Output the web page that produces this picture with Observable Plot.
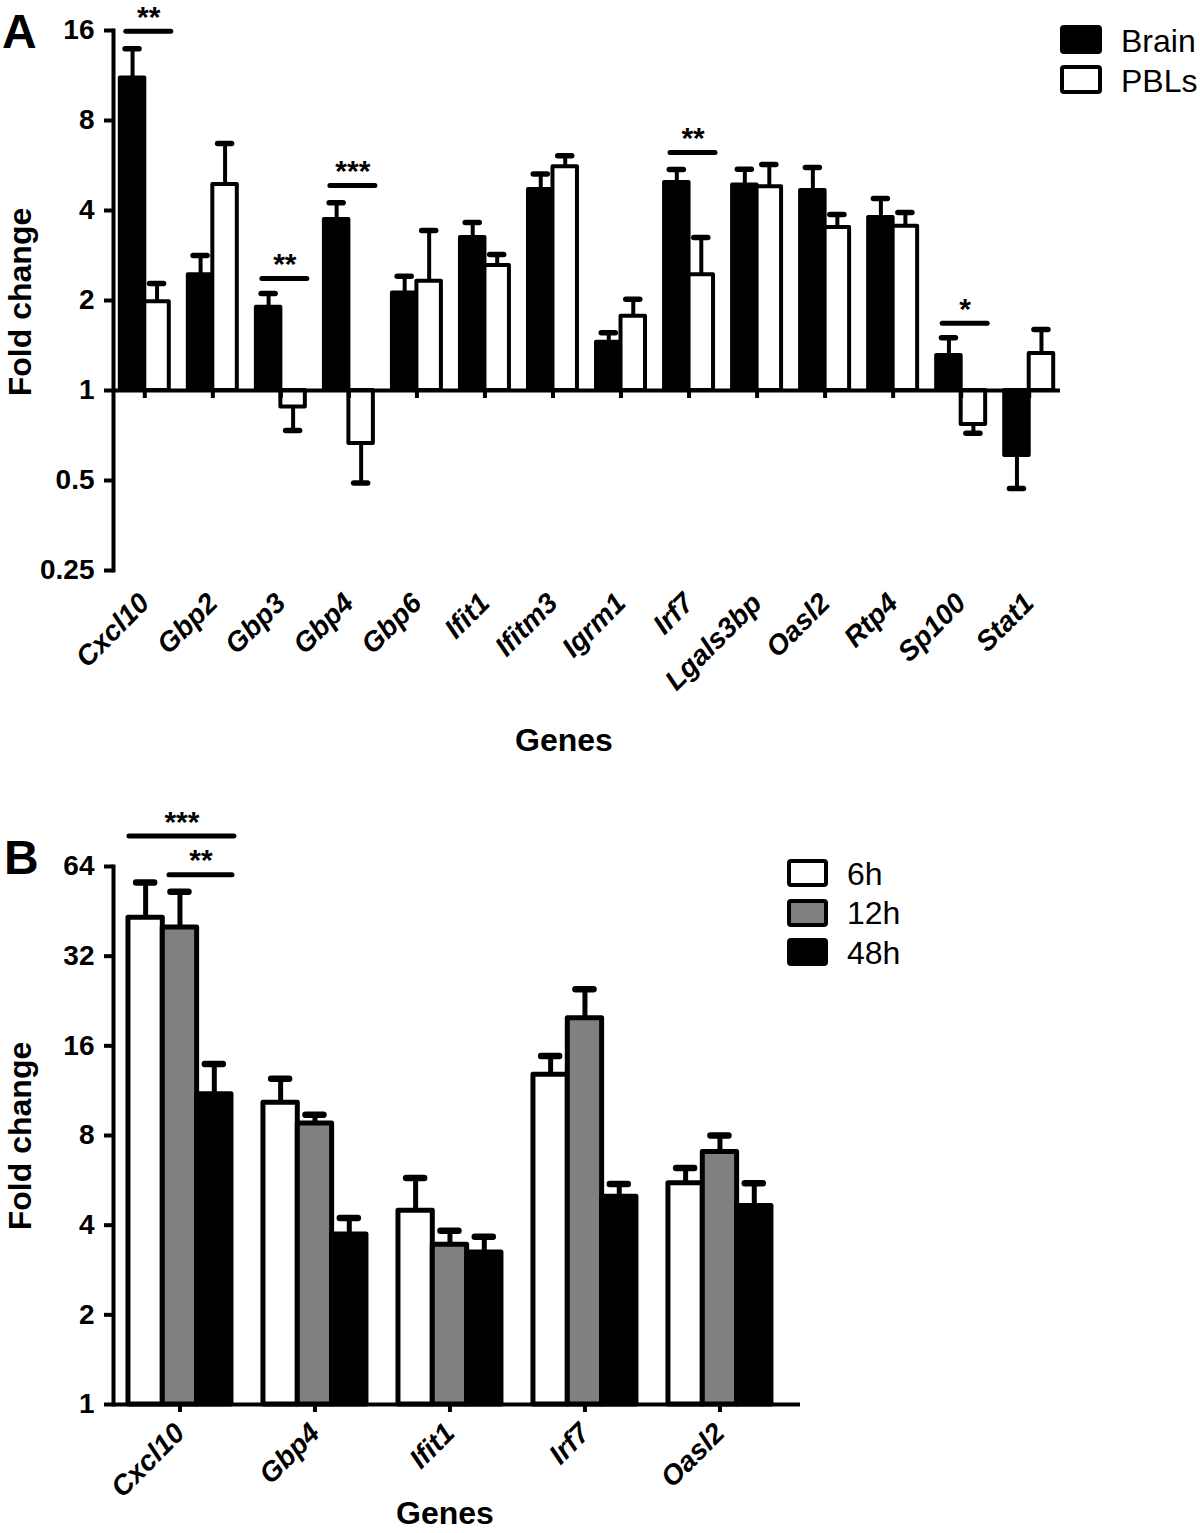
<!DOCTYPE html>
<html><head><meta charset="utf-8">
<script src="https://cdn.jsdelivr.net/npm/d3@7"></script>
<script src="https://cdn.jsdelivr.net/npm/@observablehq/plot@0.6"></script>
<style>
body{margin:0;background:#fff;}
#root{position:relative;width:1200px;height:1533px;font-family:"Liberation Sans",Arial,sans-serif;color:#000;overflow:hidden;background:#fff;}
.abs{position:absolute;}
.letter{position:absolute;font-weight:bold;font-size:48px;line-height:1;}
.ylab{position:absolute;font-weight:bold;font-size:32px;transform:translate(-50%,-50%) rotate(-90deg);white-space:nowrap;line-height:1;}
.xlab{position:absolute;font-weight:bold;font-size:32px;transform:translate(-50%,-50%);white-space:nowrap;line-height:1;}
.sw{position:absolute;box-sizing:border-box;border:4px solid #000;border-radius:4px;}
.lt{position:absolute;font-size:32px;line-height:1;transform:translateY(-50%);white-space:nowrap;}
</style></head>
<body><div id="root"></div>
<script>
// ---------- Panel A data ----------
const genesA = ["Cxcl10","Gbp2","Gbp3","Gbp4","Gbp6","Ifit1","Ifitm3","Igrm1","Irf7","Lgals3bp","Oasl2","Rtp4","Sp100","Stat1"];
const seriesA = ["Brain","PBLs"];
const brainMean = [11.1, 2.44, 1.90, 3.73, 2.12, 3.25, 4.70, 1.45, 4.96, 4.87, 4.67, 3.79, 1.31, 0.606];
const brainErr  = [13.9, 2.83, 2.11, 4.25, 2.41, 3.65, 5.30, 1.56, 5.48, 5.50, 5.57, 4.39, 1.50, 0.47];
const pblsMean  = [1.98, 4.89, 0.88, 0.665, 2.32, 2.62, 5.60, 1.77, 2.44, 4.80, 3.51, 3.54, 0.77, 1.33];
const pblsErr   = [2.28, 6.70, 0.735, 0.49, 3.43, 2.85, 6.10, 2.02, 3.25, 5.70, 3.88, 3.94, 0.72, 1.60];
const yTicksA = [0.25, 0.5, 1, 2, 4, 8, 16];
const sigGenesA = ["Cxcl10","Gbp3","Gbp4","Irf7","Sp100"];
const sigLevelsA = [15.9, 2.37, 4.85, 6.25, 1.68];
const sigMarksA = ["**","**","***","**","*"];

// ---------- Panel B data ----------
const genesB = ["Cxcl10","Gbp4","Ifit1","Irf7","Oasl2"];
const seriesB = ["6h","12h","48h"];
const mean6h  = [43.1, 10.3, 4.47, 12.8, 5.53];
const err6h   = [56.5, 12.4, 5.76, 14.8, 6.22];
const mean12h = [39.9, 8.77, 3.44, 19.8, 7.04];
const err12h  = [52.7, 9.40, 3.83, 24.8, 8.00];
const mean48h = [11.0, 3.72, 3.24, 4.98, 4.64];
const err48h  = [13.9, 4.23, 3.66, 5.50, 5.53];
const yTicksB = [1, 2, 4, 8, 16, 32, 64];
const sigGeneB = "Cxcl10";
const sigLevelsB = [81, 60];
const sigMarksB = ["***","**"];

const FONT = "Liberation Sans, Arial, sans-serif";

function panel(cfg) {
  const {genes, series, means, errs, fills, yDomain, yTicks, width, height, mt, mb, ml, mr, pi, po, align, sw, capW, tickPad} = cfg;
  const n = genes.length, m = series.length;
  const step = (width - ml - mr) / (n - pi + 2 * po);
  const bw = step * (1 - pi);
  const sub = bw / m;
  const rows = genes.flatMap((g, i) => series.map((s, k) => ({gene: g, series: s, k, v: means[k][i], e: errs[k][i]})));
  const marks = [];
  series.forEach((s, k) => {
    const data = rows.filter(d => d.k === k);
    marks.push(Plot.barY(data, {x: "gene", y1: 1, y2: "v", fill: fills[k], stroke: "#000", strokeWidth: sw, strokeLinejoin: "round", insetLeft: k * sub, insetRight: (m - 1 - k) * sub}));
  });
  series.forEach((s, k) => {
    const data = rows.filter(d => d.k === k);
    const c = (k + 0.5) * sub;
    marks.push(Plot.ruleX(data, {x: "gene", y1: "v", y2: "e", dx: c - bw / 2, stroke: "#000", strokeWidth: sw}));
    marks.push(Plot.tickY(data, {x: "gene", y: "e", insetLeft: c - capW / 2, insetRight: bw - c - capW / 2, stroke: "#000", strokeWidth: sw + 1.5, strokeLinecap: "round"}));
  });
  marks.push(Plot.ruleY([1], {stroke: "#000", strokeWidth: 4}));
  marks.push(Plot.ruleX(genes, {x: d => d, y1: 1, y2: 1, insetBottom: -8, stroke: "#000", strokeWidth: 4}));
  marks.push(Plot.frame({anchor: "left", stroke: "#000", strokeWidth: 4}));
  marks.push(Plot.axisY({ticks: yTicks, tickFormat: d => String(d), tickSize: 9, tickPadding: 10, strokeWidth: 4, fontSize: 28, fontWeight: "bold", label: null}));
  marks.push(Plot.axisX({anchor: "bottom", tickSize: 0, tickPadding: tickPad, tickRotate: -45, fontSize: 28, fontWeight: "bold", fontStyle: "italic", label: null}));
  return {marks, bw, sub, width, height, ml, mr, mt, mb, pi, po, align, genes, yDomain};
}

function render(p, extra) {
  return Plot.plot({
    width: p.width, height: p.height,
    marginLeft: p.ml, marginRight: p.mr, marginTop: p.mt, marginBottom: p.mb,
    style: {background: "transparent", overflow: "visible", fontFamily: FONT, color: "#000"},
    x: {type: "band", domain: p.genes, paddingInner: p.pi, paddingOuter: p.po, align: p.align, round: false, axis: null},
    y: {type: "log", base: 2, domain: p.yDomain, axis: null},
    marks: [...p.marks, ...extra]
  });
}

const root = document.getElementById("root");
function place(el, left, top) {
  const d = document.createElement("div");
  d.className = "abs"; d.style.left = left + "px"; d.style.top = top + "px";
  d.appendChild(el); root.appendChild(d);
}
function html(cls, text, left, top) {
  const d = document.createElement("div");
  d.className = cls; d.textContent = text;
  d.style.left = left + "px"; d.style.top = top + "px";
  root.appendChild(d);
}
function swatch(left, top, w, h, fill) {
  const d = document.createElement("div");
  d.className = "sw";
  Object.assign(d.style, {left: left + "px", top: top + "px", width: w + "px", height: h + "px", background: fill});
  root.appendChild(d);
}

// ---------- Panel A ----------
const fillsA = ["#000", "#fff"];
const pA = panel({
  genes: genesA, series: seriesA, means: [brainMean, pblsMean], errs: [brainErr, pblsErr], fills: fillsA,
  yDomain: [0.25, 16], yTicks: yTicksA, width: 1200, height: 770, mt: 30, mb: 200, ml: 113, mr: 140,
  pi: 0.28, po: 0.1, align: 0.5, sw: 4, capW: 14, tickPad: 28
});
const sigA = sigGenesA.map((g, i) => ({gene: g, level: sigLevelsA[i], mark: sigMarksA[i]}));
const extraA = [
  Plot.ruleY(sigA, {x1: "gene", x2: "gene", y: "level", stroke: "#000", strokeWidth: 5, strokeLinecap: "round", insetLeft: 6, insetRight: -2}),
  Plot.text(sigA, {x: "gene", y: "level", text: "mark", dx: 4, dy: -14, fontSize: 30, fontWeight: "bold", fill: "#000"})
];
place(render(pA, extraA), 0, 0);

// ---------- Panel B ----------
const fillsB = ["#fff", "#808080", "#000"];
const pB = panel({
  genes: genesB, series: seriesB, means: [mean6h, mean12h, mean48h], errs: [err6h, err12h, err48h], fills: fillsB,
  yDomain: [1, 64], yTicks: yTicksB, width: 1200, height: 733, mt: 66, mb: 129, ml: 113, mr: 400,
  pi: 0.237, po: 0.163, align: 0.34, sw: 5, capW: 18, tickPad: 24
});
const extraB = [
  Plot.ruleY([{gene: sigGeneB, level: sigLevelsB[0]}], {x1: "gene", x2: "gene", y: "level", stroke: "#000", strokeWidth: 5, strokeLinecap: "round", insetLeft: 1, insetRight: -3}),
  Plot.ruleY([{gene: sigGeneB, level: sigLevelsB[1]}], {x1: "gene", x2: "gene", y: "level", stroke: "#000", strokeWidth: 5, strokeLinecap: "round", insetLeft: 41, insetRight: -1}),
  Plot.text([{gene: sigGeneB, level: sigLevelsB[0], mark: sigMarksB[0]}], {x: "gene", y: "level", text: "mark", dx: 2, dy: -14, fontSize: 30, fontWeight: "bold", fill: "#000"}),
  Plot.text([{gene: sigGeneB, level: sigLevelsB[1], mark: sigMarksB[1]}], {x: "gene", y: "level", text: "mark", dx: 21, dy: -14, fontSize: 30, fontWeight: "bold", fill: "#000"})
];
place(render(pB, extraB), 0, 800);

// ---------- Text & legends ----------
html("letter", "A", 2, 8);
html("letter", "B", 4, 834);
html("ylab", "Fold change", 20, 302);
html("ylab", "Fold change", 20, 1136);
html("xlab", "Genes", 564, 740);
html("xlab", "Genes", 445, 1513);

swatch(1060, 25, 42, 29, fillsA[0]); html("lt", seriesA[0], 1121, 41);
swatch(1060, 65, 42, 29, fillsA[1]); html("lt", seriesA[1], 1121, 81);

swatch(787, 859, 41, 28, fillsB[0]); html("lt", seriesB[0], 847, 874);
swatch(787, 899, 41, 28, fillsB[1]); html("lt", seriesB[1], 847, 913);
swatch(787, 938, 41, 28, fillsB[2]); html("lt", seriesB[2], 847, 953);
</script>
</body></html>
